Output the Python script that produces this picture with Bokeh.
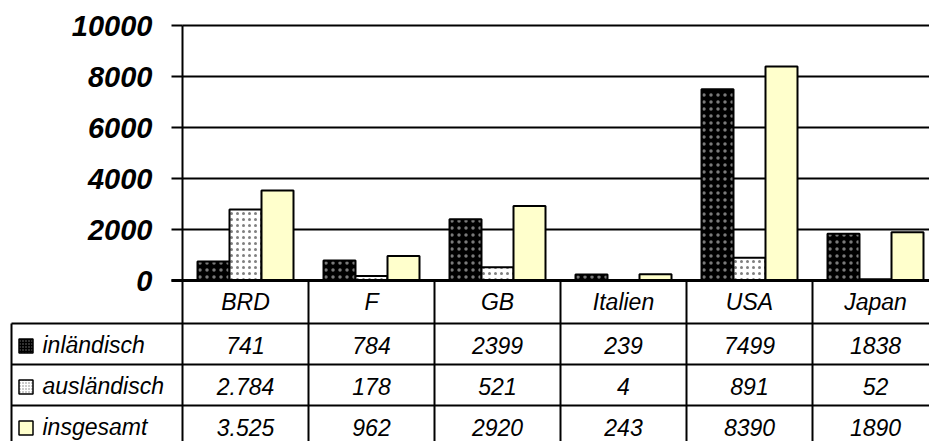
from bokeh.plotting import figure
from bokeh.models import Range1d, FixedTicker, ColumnDataSource, LinearAxis
from bokeh.core.properties import value
from bokeh.embed import file_html
from bokeh.resources import INLINE

# ---- data -------------------------------------------------------------
categories = ["BRD", "F", "GB", "Italien", "USA", "Japan"]
inlaendisch = [741, 784, 2399, 239, 7499, 1838]
auslaendisch = [2784, 178, 521, 4, 891, 52]
insgesamt = [3525, 962, 2920, 243, 8390, 1890]
series_names = ["inländisch", "ausländisch", "insgesamt"]
y_ticks = [0, 2000, 4000, 6000, 8000, 10000]
# the BRD column is printed with a thousands separator in the table
thousands_sep = [True, False, False, False, False, False]

# ---- layout constants (pixels) -----------------------------------------
W, H = 929, 441
AXIS_X = 182          # x of the value axis
CAT_W = 126           # width of one category column
TOP = 25              # row of the 10000 gridline
ZERO = 280            # row of the 0 line
TABLE_LEFT = 11       # left border of the data table
ROW_LINES = [323, 364, 405]
ROW_H = 41
BAR_W = 32

FONT = "Liberation Sans"
TEXT_SIZE = "23px"
unit = (ZERO - TOP) / y_ticks[-1]   # px per value unit


def px_x(px):
    """pixel column -> category units (0 = value axis)"""
    return (px - AXIS_X) / CAT_W


def fmt(v, sep):
    return f"{v:,}".replace(",", ".") if sep else str(v)


styles = [
    dict(fill_color="black", hatch_pattern="dot", hatch_color="#7a7a7a", hatch_scale=7, hatch_weight=1),
    dict(fill_color="white", hatch_pattern="dot", hatch_color="#808080", hatch_scale=6, hatch_weight=1),
    dict(fill_color="#FFFFCC"),
]
series = [inlaendisch, auslaendisch, insgesamt]
centers = [i + 0.5 for i in range(len(categories))]
bw = BAR_W / CAT_W

p = figure(
    width=W, height=H, output_backend="svg", toolbar_location=None,
    x_axis_type=None, y_axis_type=None,
    x_range=Range1d(px_x(0), px_x(W)),
    y_range=Range1d(-(H - ZERO) / unit, y_ticks[-1] + TOP / unit),
    min_border=0, outline_line_color=None,
    background_fill_color="white", border_fill_color="white",
)
# pixel-row range for laying out the table below the bars
p.extra_y_ranges = {"rows": Range1d(H, 0)}
p.xgrid.visible = False

# value axis drawn at the category origin
yax = LinearAxis(
    ticker=FixedTicker(ticks=y_ticks), fixed_location=0,
    bounds=(p.y_range.start, y_ticks[-1]),
    axis_line_color="black", axis_line_width=2,
    major_tick_out=11, major_tick_in=0, minor_tick_out=0, minor_tick_in=0,
    major_tick_line_width=2, major_tick_line_color="black",
    major_label_standoff=19, major_label_text_font=FONT,
    major_label_text_font_style="bold italic", major_label_text_font_size="29px",
    major_label_text_color="black",
)
p.add_layout(yax, "left")

# horizontal gridlines over the bar area
p.segment(x0=[0] * (len(y_ticks) - 1), y0=y_ticks[1:], x1=[px_x(W)] * (len(y_ticks) - 1),
          y1=y_ticks[1:], line_color="black", line_width=2)

for k, (vals, st) in enumerate(zip(series, styles)):
    src = ColumnDataSource(dict(x=[c + (k - 1) * bw for c in centers], top=vals))
    p.vbar(x="x", top="top", bottom=0, width=bw, source=src,
           line_color="black", line_width=2, **st)

# zero line
p.segment(x0=[px_x(AXIS_X - 11)], y0=[0], x1=[px_x(W)], y1=[0], line_color="black", line_width=3)

# ---- data table --------------------------------------------------------
vx = list(range(1, len(categories) + 1))
p.segment(x0=vx, y0=[ZERO] * len(vx), x1=vx, y1=[H] * len(vx),
          line_color="black", line_width=2, y_range_name="rows")
p.segment(x0=[px_x(TABLE_LEFT)], y0=[ROW_LINES[0]], x1=[px_x(TABLE_LEFT)], y1=[H],
          line_color="black", line_width=2, y_range_name="rows")
p.segment(x0=[px_x(TABLE_LEFT)] * len(ROW_LINES), y0=ROW_LINES,
          x1=[px_x(W)] * len(ROW_LINES), y1=ROW_LINES,
          line_color="black", line_width=2, y_range_name="rows")

# header row with the category names
p.text(x=centers, y=[(ZERO + ROW_LINES[0]) / 2] * len(categories), text=categories,
       text_font=value(FONT), text_font_style="italic", text_font_size=TEXT_SIZE,
       text_align="center", text_baseline="middle", text_color="black", y_range_name="rows")

for k, (name, vals, st) in enumerate(zip(series_names, series, styles)):
    yc = ROW_LINES[k] + ROW_H / 2 + 1
    key_style = dict(st)
    if "hatch_scale" in key_style:
        key_style["hatch_scale"] = 3
    p.rect(x=[px_x(25.5)], y=[yc + 1], width=14, height=14,
           width_units="screen", height_units="screen",
           line_color="black", line_width=1.5, y_range_name="rows", **key_style)
    p.text(x=[px_x(42)], y=[yc], text=[name],
           text_font=value(FONT), text_font_style="italic", text_font_size=TEXT_SIZE,
           text_align="left", text_baseline="middle", text_color="black", y_range_name="rows")
    p.text(x=centers, y=[yc] * len(categories),
           text=[fmt(v, s) for v, s in zip(vals, thousands_sep)],
           text_font=value(FONT), text_font_style="italic", text_font_size=TEXT_SIZE,
           text_align="center", text_baseline="middle", text_color="black", y_range_name="rows")

open("out.html", "w").write(file_html(p, INLINE))
